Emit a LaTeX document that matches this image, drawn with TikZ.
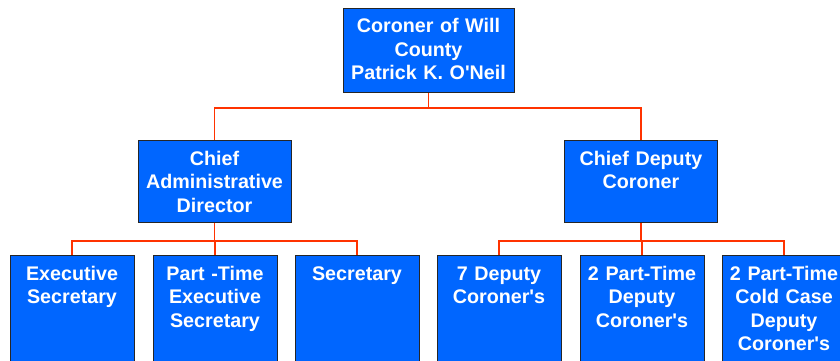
\documentclass[tikz,border=0pt]{standalone}
\usepackage{fontspec}
\setmainfont{Liberation Sans}
\usetikzlibrary{positioning}
\definecolor{orgblue}{HTML}{0066FF}
\definecolor{orgred}{HTML}{FF3300}
\newcommand{\apos}{\textquotesingle}

\begin{document}
\begin{tikzpicture}[x=1pt,y=-1pt,
	unit/.style={draw=black!85,line width=1pt,fill=orgblue,text=white,anchor=north,align=center,
		font=\bfseries\fontsize{19.7}{23.5}\selectfont,inner xsep=0pt,inner ysep=0pt,text height=24.5pt},
	top/.style={unit,text width=171pt,text depth=59.5pt},
	mid/.style={unit,text width=153pt,text depth=57.5pt},
	low/.style={unit,text width=124pt,text depth=130pt},
	link/.style={draw=orgred,line width=1.2pt}]
	\useasboundingbox (0,0) rectangle (840,361);
	% head
	\node[top] (coroner) at (428.5,8) {Coroner of Will\\County\\Patrick K. O\apos Neil};
	% second level
	\node[mid] (admin) at (214.5,140) {Chief\\Administrative\\Director};
	\node[mid] (chief) at (641,140) {Chief Deputy\\Coroner};
	% third level
	\node[low] (execsec) at (72,255) {Executive\\Secretary};
	\node[low] (ptexec) at (215,255) {Part -Time\\Executive\\Secretary};
	\node[low] (sec) at (357,255) {Secretary};
	\node[low] (deputy) at (499,255) {7 Deputy\\Coroner\apos s};
	\node[low] (ptdeputy) at (642,255) {2 Part-Time\\Deputy\\Coroner\apos s};
	\node[low] (coldcase) at (784,255) {2 Part-Time\\Cold Case\\Deputy\\Coroner\apos s};
	% connectors
	\foreach \kid in {admin,chief}
		\draw[link] (coroner.south) -- ++(0,15) -| (\kid.north);
	\foreach \kid in {execsec,ptexec,sec}
		\draw[link] (admin.south) -- ++(0,18) -| (\kid.north);
	\foreach \kid in {deputy,ptdeputy,coldcase}
		\draw[link] (chief.south) -- ++(0,18) -| (\kid.north);
\end{tikzpicture}
\end{document}
